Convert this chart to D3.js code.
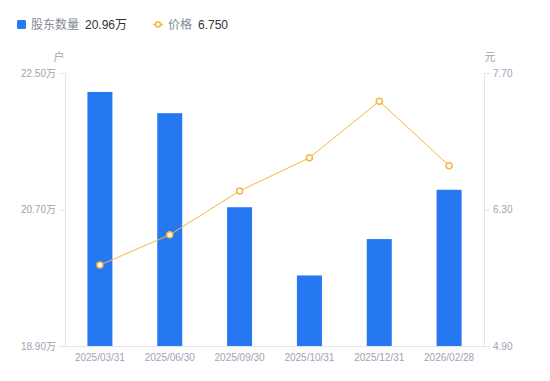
<!DOCTYPE html>
<html><head><meta charset="utf-8">
<script src="https://cdn.jsdelivr.net/npm/d3@7/dist/d3.min.js"></script>
<style>body{margin:0;background:#fff;}svg{display:block;font-family:"Liberation Sans","Noto Sans CJK SC",sans-serif;}</style>
</head><body><svg id="c" width="550" height="381"></svg>
<script>
const categories = ["2025/03/31","2025/06/30","2025/09/30","2025/10/31","2025/12/31","2026/02/28"];
const holders = [22.25, 21.97, 20.73, 19.83, 20.31, 20.96];
const prices = [5.73, 6.04, 6.49, 6.83, 7.41, 6.75];
const leftTicks = [18.90, 20.70, 22.50];
const rightTicks = [4.90, 6.30, 7.70];

const svg = d3.select("#c");
const L = 65, R = 484, T = 73, B = 346;
const x = d3.scaleBand().domain(categories).range([L, R]);
const yL = d3.scaleLinear().domain([18.90, 22.50]).range([B, T]);
const yR = d3.scaleLinear().domain([4.90, 7.70]).range([B, T]);
const blue = "#2677f2", orange = "#f6b53f", tickCol = "#9ea3b3", axisCol = "#e3e5ea";
const fam = "'Liberation Sans','Noto Sans CJK SC',sans-serif";

const gL = svg.append("g").attr("transform", `translate(${L},0)`)
  .call(d3.axisLeft(yL).tickValues(leftTicks).tickSize(6).tickPadding(3).tickFormat(d => d3.format(".2f")(d) + "万"));
const gR = svg.append("g").attr("transform", `translate(${R},0)`)
  .call(d3.axisRight(yR).tickValues(rightTicks).tickSize(6).tickPadding(3).tickFormat(d3.format(".2f")));
const gX = svg.append("g").attr("transform", `translate(0,${B})`)
  .call(d3.axisBottom(x).tickSize(0).tickPadding(8));
[gL, gR, gX].forEach(g => {
  g.selectAll(".domain").attr("stroke", axisCol);
  g.selectAll(".tick line").attr("stroke", axisCol);
  g.selectAll("text").attr("fill", tickCol).style("font-size", "10px").style("font-family", fam);
});
gX.select(".domain").attr("d", `M${L - 5},0.5H${R + 1}`);

const bw = 25;
svg.append("g").selectAll("rect").data(holders).join("rect")
  .attr("x", (d, i) => x(categories[i]) + x.bandwidth() / 2 - bw / 2)
  .attr("y", d => yL(d))
  .attr("width", bw)
  .attr("height", d => B - yL(d))
  .attr("fill", blue);

const line = d3.line().x((d, i) => x(categories[i]) + x.bandwidth() / 2).y(d => yR(d));
svg.append("path").datum(prices).attr("d", line).attr("fill", "none").attr("stroke", orange).attr("stroke-width", 1);
svg.append("g").selectAll("circle").data(prices).join("circle")
  .attr("cx", (d, i) => x(categories[i]) + x.bandwidth() / 2)
  .attr("cy", d => yR(d)).attr("r", 3)
  .attr("fill", "#fff").attr("stroke", orange).attr("stroke-width", 1.5);

svg.append("text").attr("x", 59).attr("y", 61).attr("text-anchor", "middle").attr("fill", tickCol).style("font-size", "11px").text("户");
svg.append("text").attr("x", 490).attr("y", 61).attr("text-anchor", "middle").attr("fill", tickCol).style("font-size", "11px").text("元");

const lg = svg.append("g").style("font-size", "12px");
lg.append("rect").attr("x", 17).attr("y", 20).attr("width", 9).attr("height", 9).attr("rx", 1.5).attr("fill", blue);
lg.append("text").attr("x", 31).attr("y", 29).attr("fill", "#858a97").text("股东数量");
lg.append("text").attr("x", 85).attr("y", 29).attr("fill", "#333").text(d3.format(".2f")(holders[holders.length - 1]) + "万");
lg.append("line").attr("x1", 153).attr("x2", 163).attr("y1", 24.5).attr("y2", 24.5).attr("stroke", orange).attr("stroke-width", 1.5);
lg.append("circle").attr("cx", 158).attr("cy", 24.5).attr("r", 2.5).attr("fill", "#fff").attr("stroke", orange).attr("stroke-width", 1.5);
lg.append("text").attr("x", 168).attr("y", 29).attr("fill", "#858a97").text("价格");
lg.append("text").attr("x", 198).attr("y", 29).attr("fill", "#333").text(d3.format(".3f")(prices[prices.length - 1]));
</script></body></html>
